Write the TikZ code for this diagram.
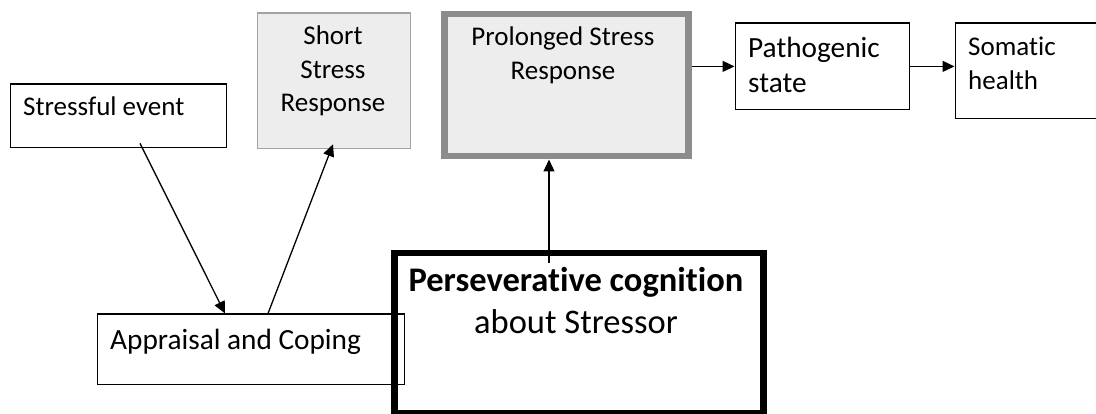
\documentclass[tikz,border=0pt]{standalone}
\usepackage{fontspec}
\setmainfont{Carlito}[Ligatures=NoCommon]
\usetikzlibrary{arrows.meta,positioning,calc}

\definecolor{shortfill}{HTML}{EDEDED}
\definecolor{shortdraw}{HTML}{A3A3A3}
\definecolor{longdraw}{HTML}{8C8C8C}

\begin{document}
\begin{tikzpicture}[x=1pt, y=-1pt, >={Triangle[length=12pt,width=11pt]},
    every node/.style={font=\fontsize{27}{33.5}\selectfont},
    plain/.style={draw, line width=1.3pt, anchor=north west, inner sep=0pt},
    shortbox/.style={plain, draw=shortdraw, fill=shortfill},
    longbox/.style={plain, draw=longdraw, fill=shortfill, line width=6.5pt},
    heavybox/.style={plain, line width=6.5pt},
    label/.style={inner sep=0pt},
    biglabel/.style={label, font=\fontsize{29.3}{35.6}\selectfont},
    link/.style={->, line width=1.3pt}]

    \useasboundingbox (0,0) rectangle (1096,414);

    % Boxes
    \node[plain, minimum width=216.5pt, minimum height=63.5pt] (stress) at (9.5,83.5) {};
    \node[shortbox, minimum width=153.5pt, minimum height=135.5pt] (short) at (256.5,12.5) {};
    \node[plain, minimum width=307.5pt, minimum height=70.5pt] (apprais) at (96.5,313.5) {};
    \node[longbox, minimum width=244pt, minimum height=142pt] (prolong) at (441,11) {};
    \node[plain, minimum width=174.5pt, minimum height=86.5pt] (patho) at (734.5,22.5) {};
    \node[plain, minimum width=170pt, minimum height=95.5pt] (somatic) at (954.5,22.5) {};
    \node[heavybox, minimum width=369pt, minimum height=160pt] (persev) at (391,250) {};

    % Texts
    \node[label, anchor=north west] (stresstxt) at (23,97) {Stressful event};
    \node[label, anchor=north, align=center] (shorttxt) at (333,26) {Short\\Stress\\Response};
    \node[biglabel, anchor=north west] (apprtxt) at (110,328.5) {Appraisal and Coping};
    \node[label, anchor=north, align=center] (prolongtxt) at (563,27) {Prolonged Stress\\Response};
    \node[label, anchor=north, align=center, font=\fontsize{34.5}{42}\selectfont] (persevtxt) at (576,267) {\textbf{Perseverative cognition}\\about Stressor};
    \node[biglabel, anchor=north west, align=left] (pathotxt) at (748,36.5) {Pathogenic\\state};
    \node[label, anchor=north west, align=left] (somatictxt) at (968,37) {Somatic\\health};

    % Arrows
    \draw[link] ([xshift=130.5pt,yshift=5pt]stress.south west) -- ([xshift=128.5pt]apprais.north west);
    \draw[link] ([xshift=171.5pt]apprais.north west) -- ([xshift=76.5pt,yshift=5pt]short.south west);
    \draw[link] ([xshift=158pt,yshift=-13pt]persev.north west) -- ([xshift=108pt]prolong.south west);
    \draw[link] (patho.west -| prolong.east) -- (patho.west);
    \draw[link] (patho.east) -- (patho.east -| somatic.west);

\end{tikzpicture}
\end{document}
